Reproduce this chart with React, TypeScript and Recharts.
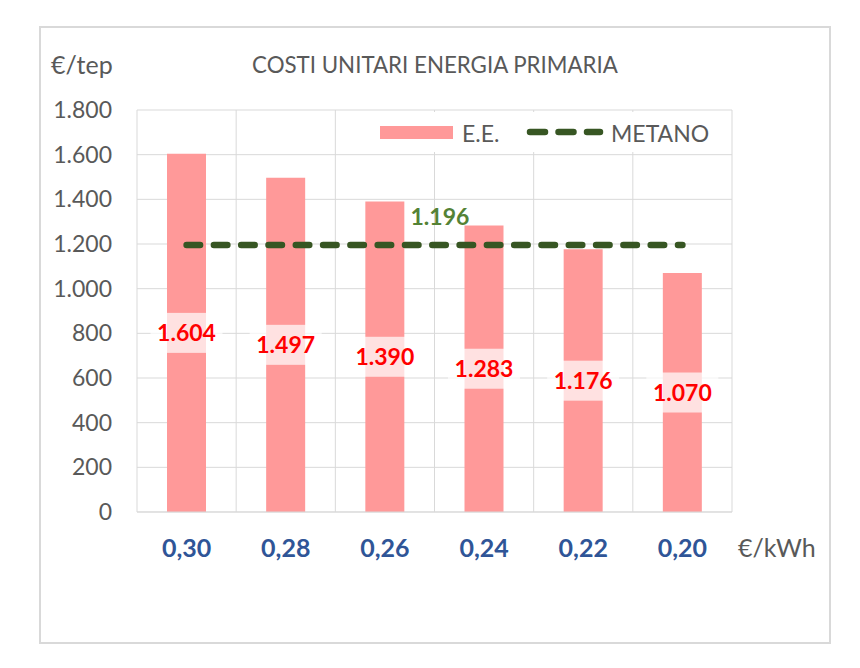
import { ComposedChart, Bar, Line, XAxis, YAxis, CartesianGrid, LabelList } from "recharts";

const categories = ["0,30", "0,28", "0,26", "0,24", "0,22", "0,20"];
const eeValues = [1604, 1497, 1390, 1283, 1176, 1070];
const metanoValues = [1196, 1196, 1196, 1196, 1196, 1196];
const yTicks = [0, 200, 400, 600, 800, 1000, 1200, 1400, 1600, 1800];

const FONT = "Lato, 'Open Sans', sans-serif";
const GRAY_TEXT = "#595959";
const GRID = "#D9D9D9";
const BAR_COLOR = "#FF9999";
const LINE_COLOR = "#375623";

const data = categories.map((name, i) => ({ name, ee: eeValues[i], metano: metanoValues[i] }));

// 1800 -> "1.800"
const fmt = (v: number) => String(v).replace(/\B(?=(\d{3})+(?!\d))/g, ".");

function BarValueLabel(props: any) {
  const { x, y, width, height, value } = props;
  const cx = Number(x) + Number(width) / 2;
  const cy = Number(y) + Number(height) / 2;
  return (
    <g>
      <rect x={cx - 36} y={cy - 20} width={72} height={40} fill="#fff" fillOpacity={0.7} />
      <text x={cx} y={cy} dy="0.36em" textAnchor="middle" fill="#FF0000" fontSize={23} fontWeight="bold" fontFamily={FONT}>
        {fmt(Number(value))}
      </text>
    </g>
  );
}

function MetanoLabel(props: any) {
  const { x, y, value, index } = props;
  if (index !== 2) return null;
  return (
    <text x={Number(x) + 55} y={Number(y) - 28} dy="0.36em" textAnchor="middle" fill="#548235" fontSize={23} fontWeight="bold" fontFamily={FONT}>
      {fmt(Number(value))}
    </text>
  );
}

export default function App() {
  return (
    <div style={{ position: "relative", width: 860, height: 668, background: "#fff" }}>
      <style>{"body{margin:0}"}</style>
      <ComposedChart
        width={860}
        height={668}
        data={data}
        margin={{ top: 110, right: 128, bottom: 116, left: 77 }}
        style={{ fontFamily: FONT }}
      >
        <CartesianGrid
          stroke={GRID}
          verticalCoordinatesGenerator={({ offset }: any) =>
            Array.from({ length: categories.length + 1 }, (_, i) => offset.left + (offset.width * i) / categories.length)
          }
        />
        <XAxis
          dataKey="name"
          height={40}
          tickSize={0}
          tickMargin={27}
          axisLine={{ stroke: GRID }}
          tick={{ fill: "#2F5597", fontSize: 25, fontWeight: "bold", fontFamily: FONT }}
        />
        <YAxis
          width={60}
          domain={[0, 1800]}
          ticks={yTicks}
          tickSize={0}
          tickMargin={25}
          axisLine={false}
          tickFormatter={fmt}
          tick={{ fill: GRAY_TEXT, fontSize: 23, fontFamily: FONT }}
        />
        <Bar dataKey="ee" name="E.E." fill={BAR_COLOR} barSize={39} isAnimationActive={false}>
          <LabelList dataKey="ee" content={BarValueLabel} />
        </Bar>
        <Line
          dataKey="metano"
          name="METANO"
          stroke={LINE_COLOR}
          strokeWidth={6.5}
          strokeDasharray="13.5 13.8"
          strokeLinecap="round"
          dot={false}
          activeDot={false}
          isAnimationActive={false}
        >
          <LabelList dataKey="metano" content={MetanoLabel} />
        </Line>
      </ComposedChart>
      <svg width={860} height={668} style={{ position: "absolute", left: 0, top: 0, pointerEvents: "none" }} fontFamily={FONT}>
        <rect x={40} y={27} width={790} height={616} fill="none" stroke={GRID} strokeWidth={2} />
        <text x={51} y={74} fill={GRAY_TEXT} fontSize={25}>€/tep</text>
        <text x={435} y={73} fill={GRAY_TEXT} fontSize={22.3} textAnchor="middle">COSTI UNITARI ENERGIA PRIMARIA</text>
        <text x={738} y={557} fill={GRAY_TEXT} fontSize={25}>€/kWh</text>
        {/* legend */}
        <rect x={372} y={112} width={346} height={40} fill="#fff" />
        <rect x={380} y={126} width={73} height={13} fill={BAR_COLOR} />
        <text x={462} y={142} fill={GRAY_TEXT} fontSize={23}>E.E.</text>
        <line x1={530} y1={132} x2={600} y2={132} stroke={LINE_COLOR} strokeWidth={6.5} strokeDasharray="15 13.5" strokeLinecap="round" />
        <text x={611} y={142} fill={GRAY_TEXT} fontSize={23}>METANO</text>
      </svg>
    </div>
  );
}
